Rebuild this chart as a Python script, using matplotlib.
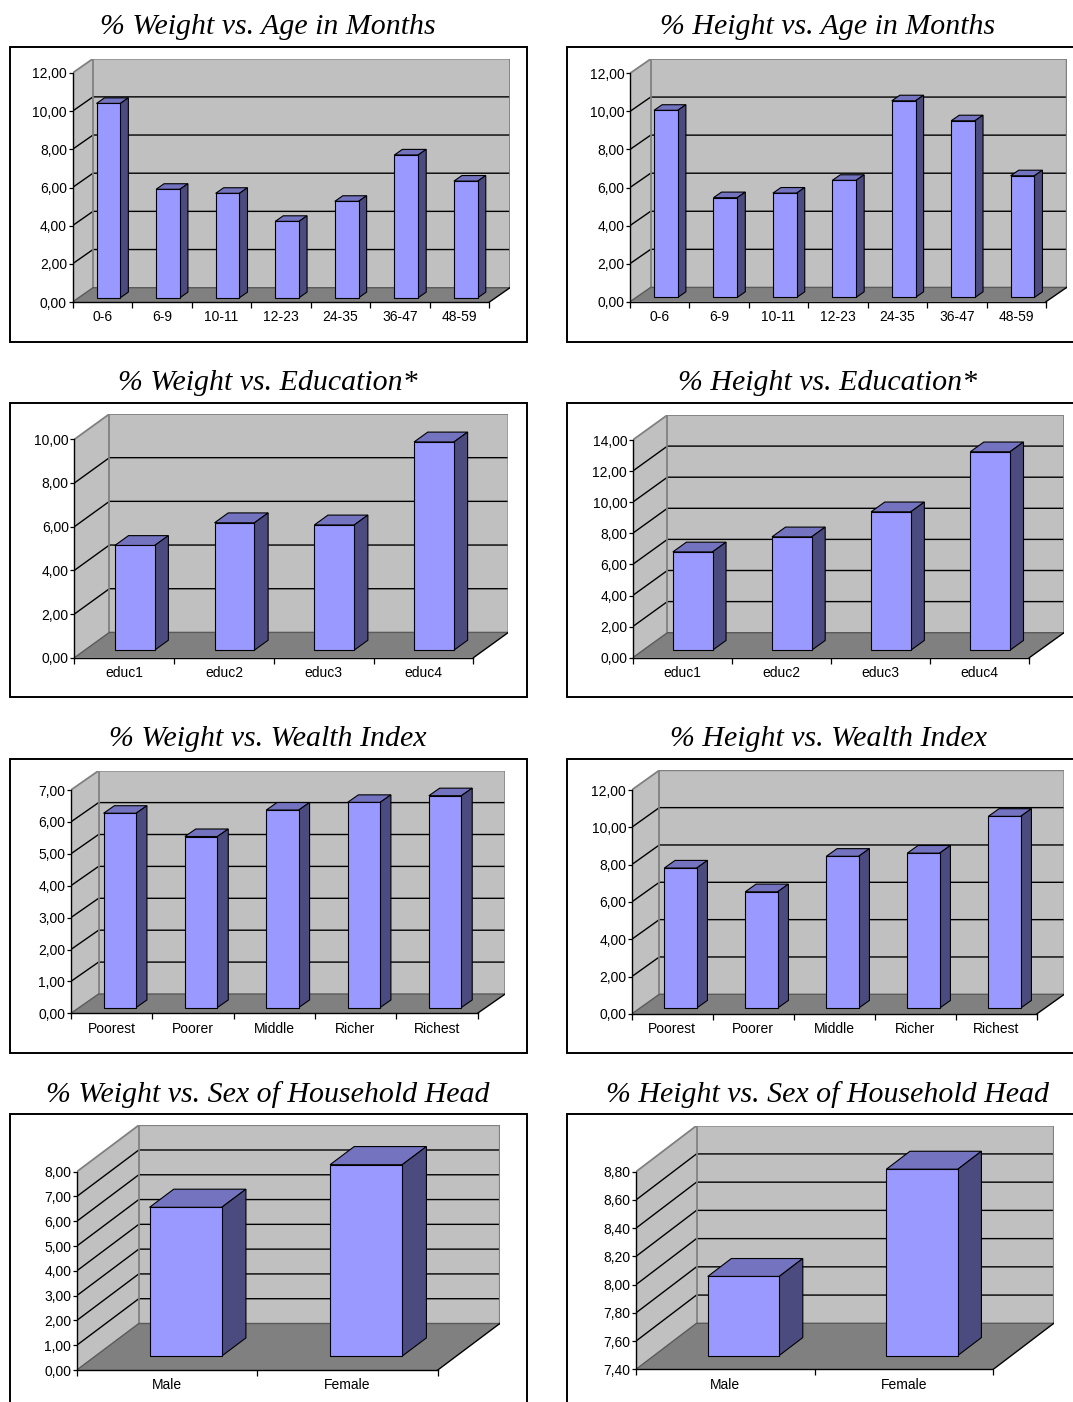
import matplotlib.pyplot as plt
from matplotlib.patches import Polygon, Rectangle
import numpy as np

W, H = 1073, 1402

FRONT = '#9999ff'
TOP = '#7373bf'
SIDE = '#4b4b80'
WALL = '#c0c0c0'
FLOOR = '#808080'
EDGE = '#808080'

# data
age_groups = ['0-6', '6-9', '10-11', '12-23', '24-35', '36-47', '48-59']
weight_age = [10.18, 5.68, 5.47, 4.00, 5.05, 7.48, 6.11]
height_age = [9.83, 5.24, 5.48, 6.15, 10.33, 9.28, 6.39]

educ_levels = ['educ1', 'educ2', 'educ3', 'educ4']
weight_educ = [4.79, 5.83, 5.73, 9.53]
height_educ = [6.32, 7.29, 8.90, 12.76]

wealth_groups = ['Poorest', 'Poorer', 'Middle', 'Richer', 'Richest']
weight_wealth = [6.09, 5.36, 6.19, 6.43, 6.64]
height_wealth = [7.50, 6.23, 8.13, 8.30, 10.27]

sex_head = ['Male', 'Female']
weight_sex = [6.00, 7.72]
height_sex = [7.96, 8.72]


def px_axes(fig, x0, y0, w, h):
    # axes from pixel box (top-left origin)
    return fig.add_axes([x0 / W, (H - y0 - h) / H, w / W, h / H])


def bar3d_panel(fig, geom, cats, vals, ticks):
    ax0, zero_y, fw, vh, dx, dy = geom
    n = len(cats)
    vmin, vmax = ticks[0], ticks[-1]
    ddx = dx / (fw / n)
    ddy = dy / (vh / (vmax - vmin))

    ax = px_axes(fig, ax0, zero_y - vh - dy, fw + dx, vh + dy)
    ax.set_facecolor('none')
    ax.set_xlim(0, n + ddx)
    ax.set_ylim(vmin, vmax + ddy)

    # walls and floor
    ax.add_patch(Polygon([(0, vmin), (n, vmin), (n + ddx, vmin + ddy), (ddx, vmin + ddy)],
                         closed=True, fc=FLOOR, ec='none', zorder=1))
    ax.add_patch(Rectangle((ddx, vmin + ddy), n, vmax - vmin, fc=WALL, ec='none', zorder=1))
    ax.add_patch(Polygon([(0, vmin), (ddx, vmin + ddy), (ddx, vmax + ddy), (0, vmax)],
                         closed=True, fc=WALL, ec='none', zorder=1))

    # gridlines on side and back wall
    for v in ticks[1:-1]:
        ax.plot([0, ddx, n + ddx], [v, v + ddy, v + ddy], color='black', lw=1.0, zorder=2)

    # wall borders
    ax.plot([0, ddx, n + ddx, n + ddx], [vmax, vmax + ddy, vmax + ddy, vmin + ddy],
            color=EDGE, lw=1.3, zorder=2)
    ax.plot([ddx, ddx], [vmin + ddy, vmax + ddy], color=EDGE, lw=1.3, zorder=2)
    ax.plot([0, ddx, n + ddx], [vmin, vmin + ddy, vmin + ddy], color='#5a5a5a', lw=1.0, zorder=2)
    ax.plot([n, n + ddx], [vmin, vmin + ddy], color='black', lw=1.0, zorder=2)

    # bars
    d0, dd, gap, bw = 0.30, 0.39, 0.30, 0.40
    for i, v in enumerate(vals):
        x0 = i + gap + d0 * ddx
        y0 = vmin + d0 * ddy
        y1 = y0 + (v - vmin)
        ex, ey = dd * ddx, dd * ddy
        ax.add_patch(Polygon([(x0, y1), (x0 + bw, y1), (x0 + bw + ex, y1 + ey), (x0 + ex, y1 + ey)],
                             closed=True, fc=TOP, ec='black', lw=0.8, zorder=3))
        ax.add_patch(Polygon([(x0 + bw, y0), (x0 + bw + ex, y0 + ey), (x0 + bw + ex, y1 + ey), (x0 + bw, y1)],
                             closed=True, fc=SIDE, ec='black', lw=0.8, zorder=3))
        ax.add_patch(Rectangle((x0, y0), bw, v - vmin, fc=FRONT, ec='black', lw=0.8, zorder=3))

    # axes lines, ticks, labels
    for s in ('top', 'right'):
        ax.spines[s].set_visible(False)
    ax.spines['left'].set_bounds(vmin, vmax)
    ax.spines['bottom'].set_bounds(0, n)
    ax.spines['left'].set_linewidth(1.0)
    ax.spines['bottom'].set_linewidth(1.0)
    ax.set_yticks(ticks)
    ax.set_yticklabels([f'{t:.2f}'.replace('.', ',') for t in ticks],
                       fontsize=10, family='Liberation Sans')
    ax.set_xticks(np.arange(n + 1))
    ax.set_xticklabels([''] * (n + 1))
    ax.set_xticks(np.arange(n) + 0.5, minor=True)
    ax.set_xticklabels(cats, minor=True, fontsize=10, family='Liberation Sans')
    ax.tick_params(axis='y', direction='out', length=3, width=0.9, pad=1)
    ax.tick_params(axis='x', which='major', direction='out', length=4, width=0.9)
    ax.tick_params(axis='x', which='minor', length=0, pad=6)
    return ax


fig = plt.figure(figsize=(W / 100, H / 100), dpi=100)
bg = fig.add_axes([0, 0, 1, 1])
bg.set_xlim(0, W)
bg.set_ylim(H, 0)
bg.axis('off')

frames_y = [(47, 342), (403, 697), (759, 1053), (1114, 1412)]
frames_x = [(10, 527), (567, 1084)]
titles = [
    ('% Weight vs. Age in Months', '% Height vs. Age in Months'),
    ('% Weight vs. Education*', '% Height vs. Education*'),
    ('% Weight vs. Wealth Index', '% Height vs. Wealth Index'),
    ('% Weight vs. Sex of Household Head', '% Height vs. Sex of Household Head'),
]
title_y = [27, 383, 739, 1095]
title_x = [268, 828]

for r, (top, bot) in enumerate(frames_y):
    for c, (left, right) in enumerate(frames_x):
        bg.add_patch(Rectangle((left, top), right - left, bot - top, fc='white',
                               ec='black', lw=1.4, zorder=0))
        bg.text(title_x[c], title_y[r], titles[r][c], ha='center', va='center',
                fontsize=21.5, style='italic', family='Liberation Serif')

# (axis x, zero y, front width, value height, depth dx, depth dy) in pixels
bar3d_panel(fig, (72.5, 302, 417, 229, 20.5, 14.3), age_groups, weight_age,
            np.arange(0, 12.01, 2))
bar3d_panel(fig, (630, 301.7, 416, 228.4, 20.7, 14.3), age_groups, height_age,
            np.arange(0, 12.01, 2))
bar3d_panel(fig, (74.4, 657.7, 399, 218.4, 35, 25.3), educ_levels, weight_educ,
            np.arange(0, 10.01, 2))
bar3d_panel(fig, (632.7, 657.7, 396.6, 217.7, 34.7, 25), educ_levels, height_educ,
            np.arange(0, 14.01, 2))
bar3d_panel(fig, (70.9, 1013.3, 406.6, 223.3, 27.7, 19.3), wealth_groups, weight_wealth,
            np.arange(0, 7.01, 1))
bar3d_panel(fig, (631.7, 1014, 405, 224, 27.6, 19.7), wealth_groups, height_wealth,
            np.arange(0, 12.01, 2))
bar3d_panel(fig, (76.8, 1370, 361, 198.3, 62, 46.5), sex_head, weight_sex,
            np.arange(0, 8.01, 1))
bar3d_panel(fig, (636, 1369.3, 357.3, 197.6, 60.5, 46), sex_head, height_sex,
            np.round(np.arange(7.4, 8.801, 0.2), 2))

fig.savefig('out.png', dpi=100)
